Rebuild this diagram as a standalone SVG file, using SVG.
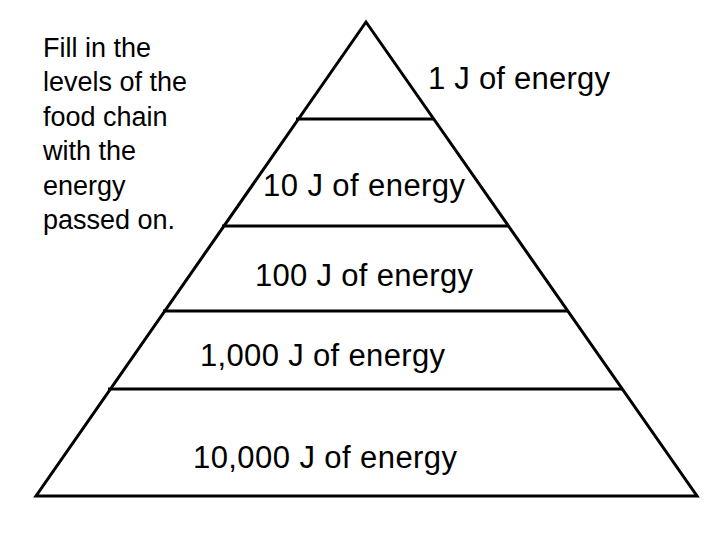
<svg xmlns="http://www.w3.org/2000/svg" width="720" height="540" viewBox="0 0 720 540">
<style>
.l{stroke:#000;stroke-width:3;fill:none}
.t{font-family:"Liberation Sans",Arial,sans-serif;font-size:31px;fill:#000}
.n{font-family:"Liberation Sans",Arial,sans-serif;font-size:27px;fill:#000}
</style>
<rect width="720" height="540" fill="#fff"/>
<g id="pyramid">
<polygon class="l" points="366,22 36,496 697,496"/>
</g>
<g id="connectors">
<line class="l" x1="296" y1="119" x2="434" y2="119"/>
<line class="l" x1="222" y1="226" x2="509" y2="226"/>
<line class="l" x1="163" y1="311" x2="568" y2="311"/>
<line class="l" x1="108" y1="389" x2="622" y2="389"/>
</g>
<g id="level1"><text class="t" x="428" y="89" textLength="182">1 J of energy</text></g>
<g id="level2"><text class="t" x="263" y="196" textLength="202">10 J of energy</text></g>
<g id="level3"><text class="t" x="255" y="286" textLength="218">100 J of energy</text></g>
<g id="level4"><text class="t" x="200" y="366" textLength="245">1,000 J of energy</text></g>
<g id="level5"><text class="t" x="193" y="468" textLength="264">10,000 J of energy</text></g>
<g id="note"><text class="n">
<tspan x="43" y="57">Fill in the</tspan>
<tspan x="43" y="91">levels of the</tspan>
<tspan x="43" y="126">food chain</tspan>
<tspan x="43" y="160">with the</tspan>
<tspan x="43" y="195">energy</tspan>
<tspan x="43" y="229">passed on.</tspan>
</text></g>
</svg>
